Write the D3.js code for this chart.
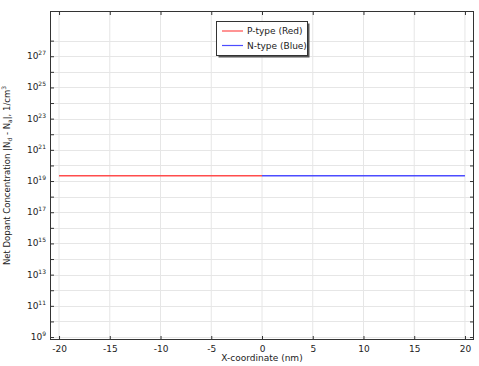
<!DOCTYPE html>
<html><head><meta charset="utf-8">
<script src="https://cdn.jsdelivr.net/npm/d3@7"></script>
<style>body{margin:0;background:#fff;font-family:"DejaVu Sans",sans-serif}</style>
</head><body><svg id="c" width="479" height="366"></svg>
<script>
const xTicks = [-20,-15,-10,-5,0,5,10,15,20];
const yExpLabels = [9,11,13,15,17,19,21,23,25,27];
const yExpTicks = [9,10,11,12,13,14,15,16,17,18,19,20,21,22,23,24,25,26,27,28];
const pX = [-20, 0];
const pY = [2.2e19, 2.2e19];
const nX = [0, 20];
const nY = [2.2e19, 2.2e19];
const seriesNames = ["P-type (Red)","N-type (Blue)"];
const seriesColors = ["#ff4d4d","#4d4dff"];

const svg = d3.select("#c");
const L=50, R=474, T=11, B=340;
const x = d3.scaleLinear().domain([-20.89,20.89]).range([L,R]);
const y = d3.scaleLog().domain([Math.pow(10,8.81),Math.pow(10,29.9)]).range([B,T]);

const g = svg.append("g");
// grid
g.selectAll(".vg").data(xTicks).enter().append("line")
 .attr("x1",d=>x(d)).attr("x2",d=>x(d)).attr("y1",T).attr("y2",B)
 .attr("stroke","#e6e6e6").attr("stroke-width",1);
g.selectAll(".hg").data(yExpTicks).enter().append("line")
 .attr("y1",d=>Math.round(y(Math.pow(10,d)))+0.5).attr("y2",d=>Math.round(y(Math.pow(10,d)))+0.5).attr("x1",L).attr("x2",R)
 .attr("stroke","#e6e6e6").attr("stroke-width",1);

// lines
const line = d3.line().x(d=>x(d[0])).y(d=>y(d[1]));
g.append("path").datum(pX.map((v,i)=>[v,pY[i]])).attr("d",line)
 .attr("stroke",seriesColors[0]).attr("stroke-width",1.5).attr("fill","none");
g.append("path").datum(nX.map((v,i)=>[v,nY[i]])).attr("d",line)
 .attr("stroke",seriesColors[1]).attr("stroke-width",1.5).attr("fill","none");

// axes
const tl=4;
const axB = d3.axisBottom(x).tickValues(xTicks).tickSize(-tl).tickPadding(6).tickFormat(d=>d);
const gb = svg.append("g").attr("transform",`translate(0,${B})`).call(axB);
const axT = d3.axisTop(x).tickValues(xTicks).tickSize(-tl).tickFormat("");
const gt = svg.append("g").attr("transform",`translate(0,${T})`).call(axT);
const axLf = d3.axisLeft(y).tickValues(yExpTicks.map(e=>Math.pow(10,e))).tickSize(-tl).tickPadding(4).tickFormat("");
const gl = svg.append("g").attr("transform",`translate(${L},0)`).call(axLf);
const axRt = d3.axisRight(y).tickValues(yExpTicks.map(e=>Math.pow(10,e))).tickSize(-tl).tickFormat("");
const gr = svg.append("g").attr("transform",`translate(${R},0)`).call(axRt);
[gb,gt,gl,gr].forEach(a=>{a.select(".domain").remove();a.selectAll(".tick line").attr("stroke","#333");});
gb.selectAll("text").attr("font-size",9).attr("fill","#222").attr("font-family","DejaVu Sans");

// y labels with superscripts
const yl = svg.append("g");
yExpLabels.forEach(e=>{
  const yy = y(Math.pow(10,e));
  const t = yl.append("text").attr("x",L-4).attr("y",yy+3).attr("text-anchor","end")
    .attr("font-size",9).attr("fill","#222");
  t.append("tspan").text("10");
  t.append("tspan").attr("font-size",6).attr("dy",-4).text(e);
});

// frame
svg.append("rect").attr("x",L+0.5).attr("y",T+0.5).attr("width",R-L-1).attr("height",B-T-1)
 .attr("fill","none").attr("stroke","#333").attr("stroke-width",1);

// axis titles
svg.append("text").attr("x",(L+R)/2).attr("y",361).attr("text-anchor","middle")
 .attr("font-size",9).attr("fill","#222").text("X-coordinate (nm)");
const yt = svg.append("text").attr("transform",`translate(10,${(T+B)/2}) rotate(-90)`)
 .attr("text-anchor","middle").attr("font-size",8.5).attr("fill","#222");
yt.append("tspan").text("Net Dopant Concentration |N");
yt.append("tspan").attr("font-size",6).attr("dy",2).text("d");
yt.append("tspan").attr("dy",-2).text(" - N");
yt.append("tspan").attr("font-size",6).attr("dy",2).text("a");
yt.append("tspan").attr("dy",-2).text("|, 1/cm");
yt.append("tspan").attr("font-size",6).attr("dy",-4).text("3");

// legend
const lg = svg.append("g");
lg.append("rect").attr("x",218.5).attr("y",23.5).attr("width",91).attr("height",34).attr("fill","#555");
lg.append("rect").attr("x",216.5).attr("y",21.5).attr("width",91).attr("height",34).attr("fill","#fff").attr("stroke","#333");
seriesNames.forEach((n,i)=>{
  const yy = 31+i*14.5;
  lg.append("line").attr("x1",222).attr("x2",243).attr("y1",yy).attr("y2",yy)
    .attr("stroke",seriesColors[i]).attr("stroke-width",1.2);
  lg.append("text").attr("x",247).attr("y",yy+3).attr("font-size",9).attr("fill","#222").text(n);
});
</script></body></html>
